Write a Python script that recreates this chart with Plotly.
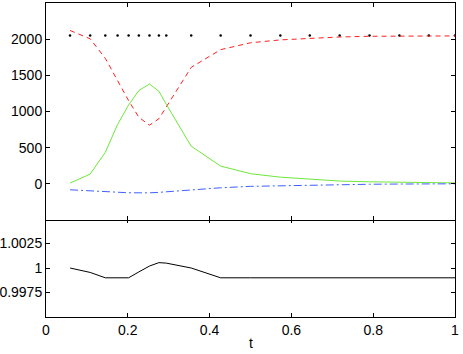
import plotly.graph_objects as go

# sample times
t = [0.0588, 0.108, 0.145, 0.175, 0.202, 0.227, 0.253, 0.276, 0.294,
     0.355, 0.427, 0.5, 0.573, 0.645, 0.718, 0.791, 0.864, 0.936, 1.0]

dots = [2050] * len(t)
red = [2120, 2005, 1735, 1430, 1150, 920, 810, 900, 1060,
       1610, 1855, 1950, 1990, 2013, 2030, 2040, 2045, 2045, 2045]
green = [10, 135, 435, 820, 1090, 1290, 1380, 1280, 1100,
         520, 245, 140, 92, 60, 38, 28, 23, 18, 12]
blue = [-83, -93, -105, -116, -124, -126, -125, -118, -110,
        -83, -55, -35, -27, -15, -9, -6, -3, -1, 0]
ratio = [1.0, 0.99955, 0.999, 0.999, 0.999, 0.9996, 1.0002, 1.00055, 1.0005,
         1.0, 0.999, 0.999, 0.999, 0.999, 0.999, 0.999, 0.999, 0.999, 0.999]

font = dict(family="Liberation Sans, Arial", size=14, color="black")

fig = go.Figure()
fig.add_trace(go.Scatter(x=t, y=dots, mode="markers", xaxis="x2", yaxis="y2",
                         marker=dict(color="black", size=2.5)))
fig.add_trace(go.Scatter(x=t, y=red, mode="lines", xaxis="x2", yaxis="y2",
                         line=dict(color="#ff2020", width=1, dash="5px,4px")))
fig.add_trace(go.Scatter(x=t, y=green, mode="lines", xaxis="x2", yaxis="y2",
                         line=dict(color="#6ee83a", width=1)))
fig.add_trace(go.Scatter(x=t, y=blue, mode="lines", xaxis="x2", yaxis="y2",
                         line=dict(color="#4060ff", width=1, dash="8px,3px,2px,3px")))
fig.add_trace(go.Scatter(x=t, y=ratio, mode="lines", xaxis="x", yaxis="y",
                         line=dict(color="black", width=1)))

axis_style = dict(showline=True, linecolor="black", linewidth=1, mirror="ticks",
                  ticks="inside", ticklen=4, tickcolor="black", showgrid=False,
                  zeroline=False, automargin=False, tickfont=font)

fig.update_layout(
    width=463, height=354,
    margin=dict(l=46, r=8, t=3, b=37),
    plot_bgcolor="white", paper_bgcolor="white",
    showlegend=False,
    xaxis=dict(range=[0, 1], tickvals=[0, 0.2, 0.4, 0.6, 0.8, 1],
               ticktext=["0", "0.2", "0.4", "0.6", "0.8", "1"],
               anchor="y", **axis_style),
    yaxis=dict(domain=[0, 0.312], range=[0.995, 1.005],
               tickvals=[0.9975, 1, 1.0025], ticktext=["0.9975", "1", "1.0025"],
               anchor="x", **axis_style),
    xaxis2=dict(range=[0, 1], tickvals=[0, 0.2, 0.4, 0.6, 0.8, 1], showticklabels=False,
                anchor="y2", matches="x", **axis_style),
    # overlap by one pixel so the shared border is a single line
    yaxis2=dict(domain=[0.309, 1], range=[-500, 2500],
                tickvals=[0, 500, 1000, 1500, 2000], anchor="x2", **axis_style),
    annotations=[dict(text="t", x=0.5, xref="x domain", y=-0.052, yref="paper",
                      yanchor="top", showarrow=False, font=font)],
)

# page body has a default 8px margin; drop it so the figure sits at the corner
fig.write_html("out.html", config={"displayModeBar": False},
               post_script="document.body.style.margin='0';")
